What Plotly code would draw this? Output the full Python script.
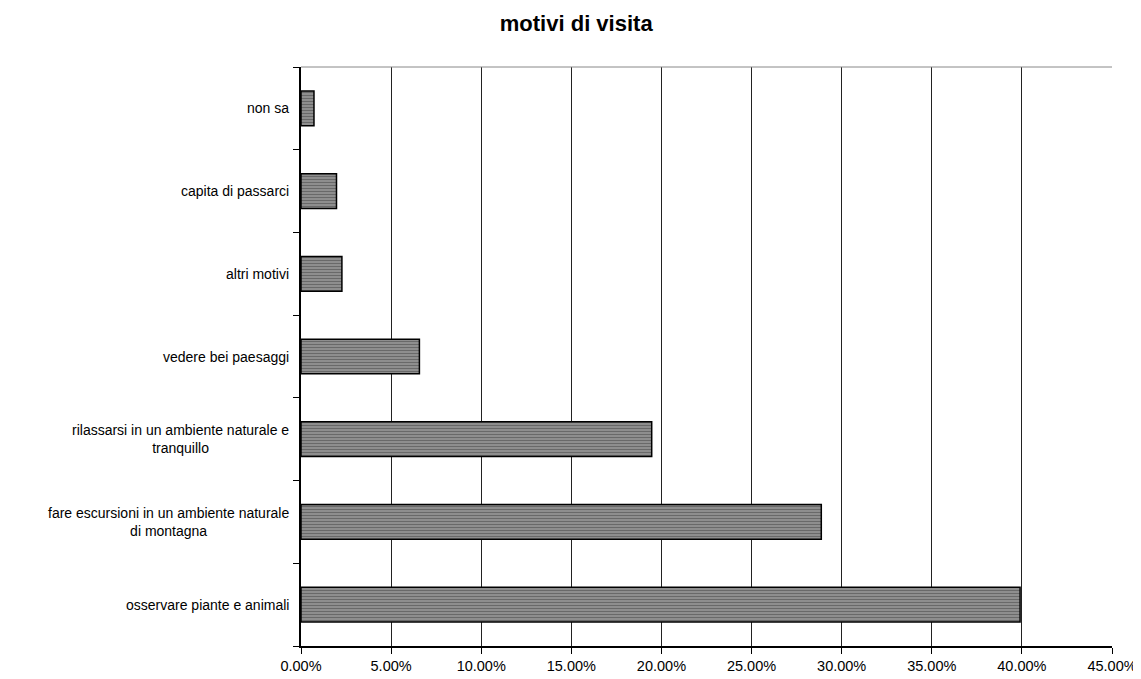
import plotly.graph_objects as go

categories = [
    "osservare piante e animali",
    "fare escursioni in un ambiente naturale<br>di montagna",
    "rilassarsi in un ambiente naturale e<br>tranquillo",
    "vedere bei paesaggi",
    "altri motivi",
    "capita di passarci",
    "non sa",
]
values = [0.399, 0.2887, 0.1946, 0.0657, 0.0227, 0.0197, 0.0072]
x_ticks = [0.0, 0.05, 0.10, 0.15, 0.20, 0.25, 0.30, 0.35, 0.40, 0.45]

font_name = "Liberation Sans, Arial, sans-serif"

fig = go.Figure()
fig.add_trace(go.Bar(
    y=categories, x=values, orientation="h",
    marker=dict(
        color="#6a6a6a",
        line=dict(color="black", width=1.5),
        pattern=dict(shape="-", fgcolor="#2c2c2c", bgcolor="#a6a6a6", size=3, solidity=0.6),
    ),
    width=0.42,
    hoverinfo="x+y",
))

# centred category labels, like the original
for c in categories:
    fig.add_annotation(x=0, xref="paper", y=c, yref="y", text=c,
                       xanchor="right", xshift=-10, align="center", showarrow=False,
                       font=dict(family=font_name, size=14, color="black"))

# grey frame line along the top
fig.add_shape(type="line", xref="paper", yref="paper", x0=0, x1=1, y0=1, y1=1,
              line=dict(color="#888888", width=1))

fig.update_layout(
    width=1141, height=679,
    margin=dict(l=293, r=35, t=59, b=41),
    paper_bgcolor="white", plot_bgcolor="white",
    showlegend=False,
    font=dict(family=font_name, size=14, color="black"),
    title=dict(text="<b>motivi di visita</b>", x=0.498, xanchor="center", y=0.978, yanchor="middle",
               font=dict(family=font_name, size=22, color="black")),
)
fig.update_xaxes(
    range=[0, 0.45], tickvals=x_ticks, tickformat=".2%",
    tickfont=dict(size=14.5),
    showgrid=True, gridcolor="#222222", gridwidth=1,
    showline=True, linecolor="black", linewidth=1.5,
    ticks="outside", ticklen=6, tickcolor="black",
    zeroline=False,
)
fig.update_yaxes(
    categoryorder="array", categoryarray=categories,
    showticklabels=False, tickson="boundaries",
    ticks="outside", ticklen=6, tickcolor="black",
    showline=True, linecolor="black", linewidth=1.5,
    showgrid=False,
)

fig.write_html("out.html")
